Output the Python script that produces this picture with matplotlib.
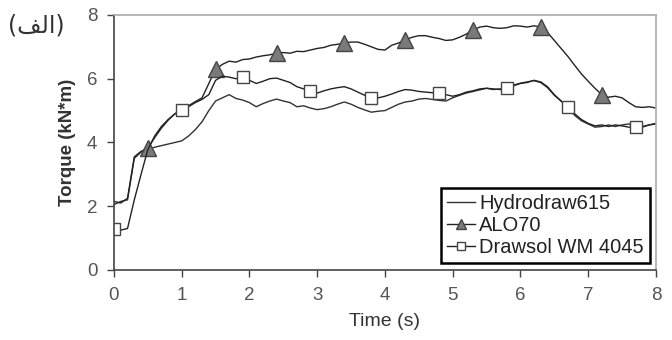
import matplotlib
matplotlib.use("Agg")
import matplotlib.pyplot as plt
import numpy as np

# Zeitachse (s), Schritt 0.1
time_s = np.round(np.arange(0, 8.01, 0.1), 1)

hydrodraw615 = [
    2.05, 2.15, 2.20, 3.50, 3.70, 3.78, 3.85, 3.90, 3.95, 4.00,
    4.05, 4.20, 4.40, 4.65, 5.00, 5.30, 5.40, 5.50, 5.38, 5.33,
    5.25, 5.12, 5.22, 5.30, 5.36, 5.30, 5.25, 5.12, 5.15, 5.08,
    5.03, 5.06, 5.12, 5.20, 5.27, 5.20, 5.10, 5.02, 4.95, 4.98,
    5.00, 5.10, 5.20, 5.27, 5.30, 5.36, 5.38, 5.35, 5.32, 5.30,
    5.40, 5.48, 5.55, 5.60, 5.65, 5.70, 5.66, 5.68, 5.72, 5.78,
    5.85, 5.88, 5.95, 5.90, 5.75, 5.50, 5.30, 5.10, 4.85, 4.68,
    4.58, 4.48, 4.50, 4.55, 4.50, 4.55, 4.58, 4.50, 4.48, 4.55,
    4.58,
]

alo70 = [
    2.15, 2.10, 2.25, 3.55, 3.72, 3.82, 4.15, 4.45, 4.70, 4.90,
    5.02, 5.15, 5.28, 5.40, 5.85, 6.30, 6.45, 6.55, 6.52, 6.60,
    6.62, 6.68, 6.72, 6.75, 6.80, 6.82, 6.80, 6.86, 6.85, 6.90,
    6.95, 6.98, 7.05, 7.08, 7.12, 7.15, 7.15, 7.08, 7.00, 6.92,
    6.90, 7.05, 7.12, 7.22, 7.30, 7.35, 7.35, 7.30, 7.26, 7.20,
    7.22, 7.30, 7.40, 7.52, 7.62, 7.65, 7.60, 7.58, 7.60, 7.66,
    7.65, 7.62, 7.66, 7.62, 7.45, 7.20, 6.95, 6.70, 6.42, 6.15,
    5.92, 5.70, 5.50, 5.42, 5.45, 5.40, 5.25, 5.12, 5.10, 5.12,
    5.08,
]

drawsol_wm4045 = [
    1.30, 1.25, 1.30, 2.20, 3.00, 3.78, 4.20, 4.50, 4.72, 4.90,
    5.02, 5.12, 5.25, 5.35, 5.50, 5.95, 6.08, 6.05, 6.00, 6.06,
    5.95, 5.85, 5.92, 6.00, 6.02, 5.95, 5.88, 5.75, 5.68, 5.62,
    5.55, 5.62, 5.68, 5.72, 5.75, 5.68, 5.58, 5.48, 5.38, 5.40,
    5.45, 5.52, 5.60, 5.66, 5.64, 5.60, 5.58, 5.56, 5.55, 5.50,
    5.45, 5.50, 5.58, 5.62, 5.68, 5.70, 5.68, 5.66, 5.70, 5.80,
    5.86, 5.90, 5.94, 5.88, 5.72, 5.48, 5.30, 5.12, 4.90, 4.72,
    4.60, 4.52, 4.55, 4.50, 4.55, 4.52, 4.48, 4.48, 4.50, 4.55,
    4.60,
]

series_labels = ["Hydrodraw615", "ALO70", "Drawsol WM 4045"]
x_ticks = [0, 1, 2, 3, 4, 5, 6, 7, 8]
y_ticks = [0, 2, 4, 6, 8]

plt.rcParams["font.family"] = ["Liberation Sans", "DejaVu Sans"]

fig = plt.figure(figsize=(6.72, 3.40), dpi=100)
ax = fig.add_axes([0.1696, 0.206, 0.8065, 0.750])

ax.plot(time_s, hydrodraw615, color="#333333", lw=1.0, label=series_labels[0])
ax.plot(time_s, alo70, color="#222222", lw=1.0, marker="^", markersize=11,
        markerfacecolor="#7a7a7a", markeredgecolor="#444444",
        markevery=[5, 15, 24, 34, 43, 53, 63, 72], label=series_labels[1])
ax.plot(time_s, drawsol_wm4045, color="#222222", lw=1.0, marker="s", markersize=8,
        markerfacecolor="white", markeredgecolor="#444444",
        markevery=[0, 10, 19, 29, 38, 48, 58, 67, 77], label=series_labels[2])

ax.set_xlim(0, 8)
ax.set_ylim(0, 8)
ax.set_xticks(x_ticks)
ax.set_yticks(y_ticks)
ax.tick_params(direction="out", length=5, width=1, colors="#444444",
               labelsize=13.5, labelcolor="#555555", pad=7)

for side in ["left", "bottom"]:
    ax.spines[side].set_color("#444444")
    ax.spines[side].set_linewidth(1.2)
for side in ["top", "right"]:
    ax.spines[side].set_color("#aaaaaa")
    ax.spines[side].set_linewidth(1.2)

ax.set_xlabel("Time (s)", fontsize=14, color="#333333", labelpad=7)
ax.set_ylabel("Torque (kN*m)", fontsize=13.5, color="#333333",
              fontweight="bold", labelpad=8)

leg = ax.legend(loc="lower right", bbox_to_anchor=(0.989, 0.027),
                borderaxespad=0, fontsize=14.5, fancybox=False, framealpha=1,
                edgecolor="black", handlelength=1.4, handletextpad=0.2,
                labelspacing=0.15, borderpad=0.3, markerscale=0.7)
leg.get_frame().set_linewidth(1.8)
for t in leg.get_texts():
    t.set_color("#222222")

# Beschriftung (الف) – Präsentationsformen in visueller Reihenfolge
fig.text(0.012, 0.925, "(\ufed2\ufedf\u0627)", fontsize=17, color="#333333",
         family=["DejaVu Sans"], va="center", ha="left")

fig.savefig("out.png", dpi=100)
